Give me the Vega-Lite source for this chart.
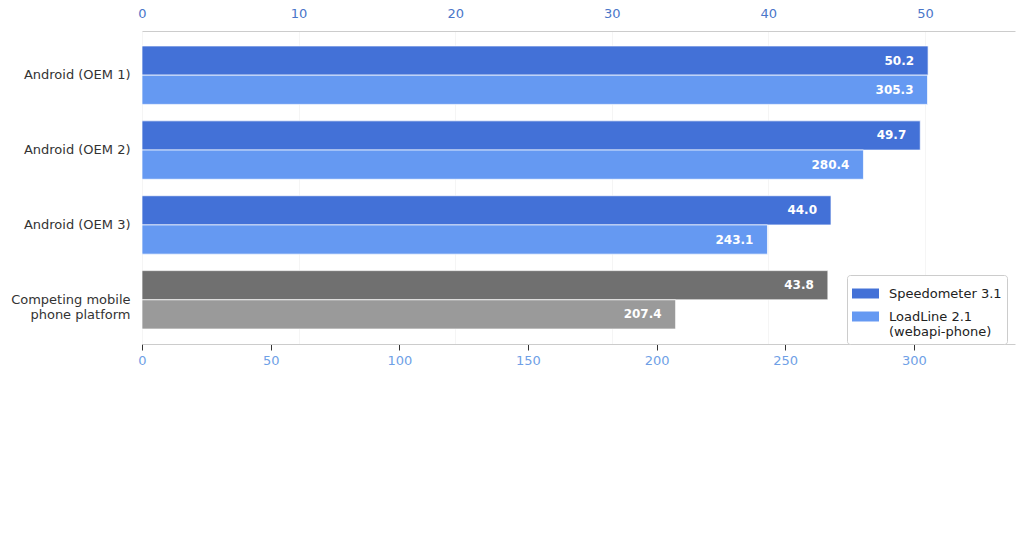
{
  "$schema": "https://vega.github.io/schema/vega-lite/v6.json",
  "width": 873,
  "height": 313,
  "autosize": {"type": "none"},
  "padding": {"left": 142, "top": 31, "right": 9, "bottom": 194},
  "background": "white",
  "config": {
    "view": {"stroke": null},
    "font": "DejaVu Sans"
  },
  "data": {
    "values": [
      {"device": "Android (OEM 1)", "series": "Speedometer 3.1", "value": 50.2},
      {"device": "Android (OEM 1)", "series": "LoadLine 2.1 (webapi-phone)", "value": 305.3},
      {"device": "Android (OEM 2)", "series": "Speedometer 3.1", "value": 49.7},
      {"device": "Android (OEM 2)", "series": "LoadLine 2.1 (webapi-phone)", "value": 280.4},
      {"device": "Android (OEM 3)", "series": "Speedometer 3.1", "value": 44.0},
      {"device": "Android (OEM 3)", "series": "LoadLine 2.1 (webapi-phone)", "value": 243.1},
      {"device": "Competing mobile phone platform", "series": "Speedometer 3.1", "value": 43.8},
      {"device": "Competing mobile phone platform", "series": "LoadLine 2.1 (webapi-phone)", "value": 207.4}
    ]
  },
  "encoding": {
    "y": {
      "field": "device",
      "type": "nominal",
      "sort": ["Android (OEM 1)", "Android (OEM 2)", "Android (OEM 3)", "Competing mobile phone platform"],
      "scale": {"paddingInner": 0.22, "paddingOuter": 0.2},
      "axis": {
        "title": null,
        "domain": false,
        "ticks": false,
        "grid": false,
        "labelPadding": 12,
        "labelFontSize": 13,
        "labelColor": "#333333",
        "labelExpr": "datum.value == 'Competing mobile phone platform' ? ['Competing mobile', 'phone platform'] : datum.value"
      }
    },
    "yOffset": {
      "field": "series",
      "type": "nominal",
      "scale": {"domain": ["Speedometer 3.1", "LoadLine 2.1 (webapi-phone)"], "paddingInner": 0, "paddingOuter": 0}
    }
  },
  "layer": [
    {
      "transform": [{"filter": "datum.series == 'Speedometer 3.1'"}],
      "encoding": {
        "x": {
          "field": "value",
          "type": "quantitative",
          "scale": {"domain": [0, 55.75], "nice": false},
          "axis": {
            "orient": "top",
            "title": null,
            "values": [0, 10, 20, 30, 40, 50],
            "ticks": false,
            "labelFlush": false,
            "labelPadding": 11,
            "labelFontSize": 13,
            "labelColor": "#4a76c9",
            "domainColor": "#cccccc",
            "gridColor": "#f5f5f5"
          }
        }
      },
      "layer": [
        {
          "mark": {"type": "bar", "stroke": "white", "strokeWidth": 1, "strokeOpacity": 0.7},
          "encoding": {
            "color": {
              "field": "series",
              "type": "nominal",
              "condition": {"test": "datum.device == 'Competing mobile phone platform'", "value": "#707070"},
              "scale": {"domain": ["Speedometer 3.1", "LoadLine 2.1 (webapi-phone)"], "range": ["#4371d7", "#6599f2"]},
              "legend": {
                "orient": "none",
                "legendX": 705,
                "legendY": 244,
                "title": null,
                "fillColor": "white",
                "strokeColor": "#cccccc",
                "cornerRadius": 3,
                "padding": 5,
                "rowPadding": 2,
                "gridAlign": "each",
                "symbolType": "M-1,-0.37H1V0.37H-1Z",
                "symbolSize": 729,
                "symbolStrokeWidth": 0,
                "symbolOpacity": 1,
                "labelOffset": 10,
                "labelFontSize": 13,
                "labelColor": "#222222",
                "labelExpr": "datum.label == 'LoadLine 2.1 (webapi-phone)' ? ['LoadLine 2.1', '(webapi-phone)'] : datum.label"
              }
            }
          }
        },
        {
          "mark": {"type": "text", "align": "right", "baseline": "middle", "dx": -14, "color": "white", "fontWeight": "bold", "fontSize": 12},
          "encoding": {"text": {"field": "value", "type": "quantitative", "format": ".1f"}}
        }
      ]
    },
    {
      "transform": [{"filter": "datum.series == 'LoadLine 2.1 (webapi-phone)'"}],
      "encoding": {
        "x": {
          "field": "value",
          "type": "quantitative",
          "scale": {"domain": [0, 339.3], "nice": false},
          "axis": {
            "orient": "bottom",
            "title": null,
            "values": [0, 50, 100, 150, 200, 250, 300],
            "labelFlush": false,
            "tickColor": "#333333",
            "tickSize": 6,
            "labelPadding": 4,
            "labelFontSize": 13,
            "labelColor": "#6f9fe6",
            "domainColor": "#cccccc",
            "gridColor": "#f5f5f5"
          }
        }
      },
      "layer": [
        {
          "mark": {"type": "bar", "stroke": "white", "strokeWidth": 1, "strokeOpacity": 0.7},
          "encoding": {
            "color": {
              "field": "series",
              "type": "nominal",
              "condition": {"test": "datum.device == 'Competing mobile phone platform'", "value": "#9a9a9a"}
            }
          }
        },
        {
          "mark": {"type": "text", "align": "right", "baseline": "middle", "dx": -14, "color": "white", "fontWeight": "bold", "fontSize": 12},
          "encoding": {"text": {"field": "value", "type": "quantitative", "format": ".1f"}}
        }
      ]
    }
  ],
  "resolve": {"scale": {"x": "independent"}, "axis": {"x": "independent"}}
}
